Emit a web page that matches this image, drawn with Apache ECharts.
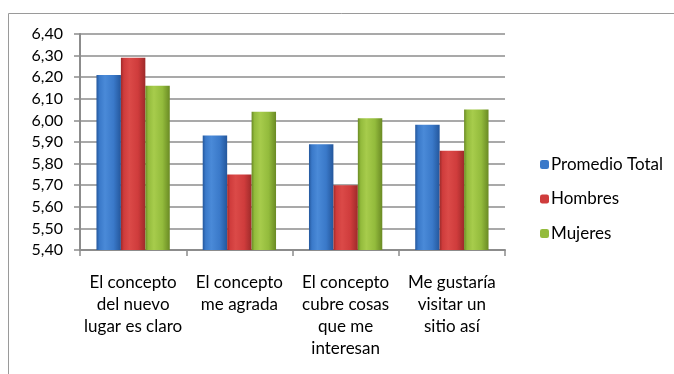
<!DOCTYPE html>
<html>
<head>
<meta charset="utf-8">
<script src="https://cdn.jsdelivr.net/npm/echarts@6/dist/echarts.min.js"></script>
<style>
  html, body { margin: 0; padding: 0; background: #fff; }
  #chart { width: 674px; height: 374px; }
</style>
</head>
<body>
<div id="chart"></div>
<script>
// Survey averages per statement, by group
const categories = [
  'El concepto\ndel nuevo\nlugar es claro',
  'El concepto\nme agrada',
  'El concepto\ncubre cosas\nque me\ninteresan',
  'Me gustaría\nvisitar un\nsitio así'
];
const seriesNames = ['Promedio Total', 'Hombres', 'Mujeres'];
const promedioTotal = [6.21, 5.93, 5.89, 5.98];
const hombres = [6.29, 5.75, 5.70, 5.86];
const mujeres = [6.16, 6.04, 6.01, 6.05];
const yMin = 5.4, yMax = 6.4, yStep = 0.1;

const FONT = 'Lato';

// Cylinder-like shading: dark edges, light band near the left-centre
function shade(dark, mid, light) {
  return new echarts.graphic.LinearGradient(0, 0, 1, 0, [
    { offset: 0, color: dark },
    { offset: 0.12, color: mid },
    { offset: 0.35, color: light },
    { offset: 0.7, color: mid },
    { offset: 1, color: dark }
  ]);
}
const fills = [
  shade('#24579c', '#3a79c9', '#4a8ad8'),
  shade('#9e2a2a', '#cf3c3c', '#db4a48'),
  shade('#6a8a24', '#93bb3c', '#a7cc4c')
];
const legendColors = ['#3a79c9', '#cf3c3c', '#93bb3c'];

const dataSets = [promedioTotal, hombres, mujeres];

const chart = echarts.init(document.getElementById('chart'), null, { renderer: 'canvas' });
chart.setOption({
  animation: false,
  textStyle: { fontFamily: FONT },
  graphic: [{
    type: 'rect',
    shape: { x: 8.5, y: 13.5, width: 700, height: 400 },
    style: { fill: 'none', stroke: '#9a9a9a', lineWidth: 1 },
    silent: true, z: -1
  }],
  grid: { left: 80, right: 169, top: 34, bottom: 124 },
  legend: {
    orient: 'vertical',
    left: 535,
    top: 151,
    itemWidth: 9,
    itemHeight: 9,
    itemGap: 17.5,
    textStyle: { fontFamily: FONT, fontSize: 17, color: '#000', padding: [0, 0, 0, -3] },
    data: seriesNames.map((n, i) => ({ name: n, itemStyle: { color: legendColors[i] } }))
  },
  xAxis: {
    type: 'category',
    data: categories,
    axisLine: { lineStyle: { color: '#8c8c8c', width: 2 } },
    axisTick: { show: true, length: 6, lineStyle: { color: '#8c8c8c', width: 1.5 } },
    axisLabel: {
      interval: 0,
      margin: 22,
      fontFamily: FONT,
      fontSize: 17,
      lineHeight: 22,
      color: '#000'
    }
  },
  yAxis: {
    type: 'value',
    min: yMin,
    max: yMax,
    interval: yStep,
    axisLine: { show: true, lineStyle: { color: '#8c8c8c', width: 2 } },
    axisTick: { show: true, length: 6, lineStyle: { color: '#8c8c8c', width: 1.5 } },
    splitLine: { lineStyle: { color: '#8c8c8c', width: 1.5 } },
    axisLabel: {
      margin: 17,
      fontFamily: FONT,
      fontSize: 16,
      color: '#000',
      formatter: v => v.toFixed(2).replace('.', ',')
    }
  },
  series: dataSets.map((d, i) => ({
    name: seriesNames[i],
    type: 'bar',
    data: d,
    barGap: '0%',
    barCategoryGap: '31%',
    itemStyle: { color: fills[i] }
  }))
});
</script>
</body>
</html>
